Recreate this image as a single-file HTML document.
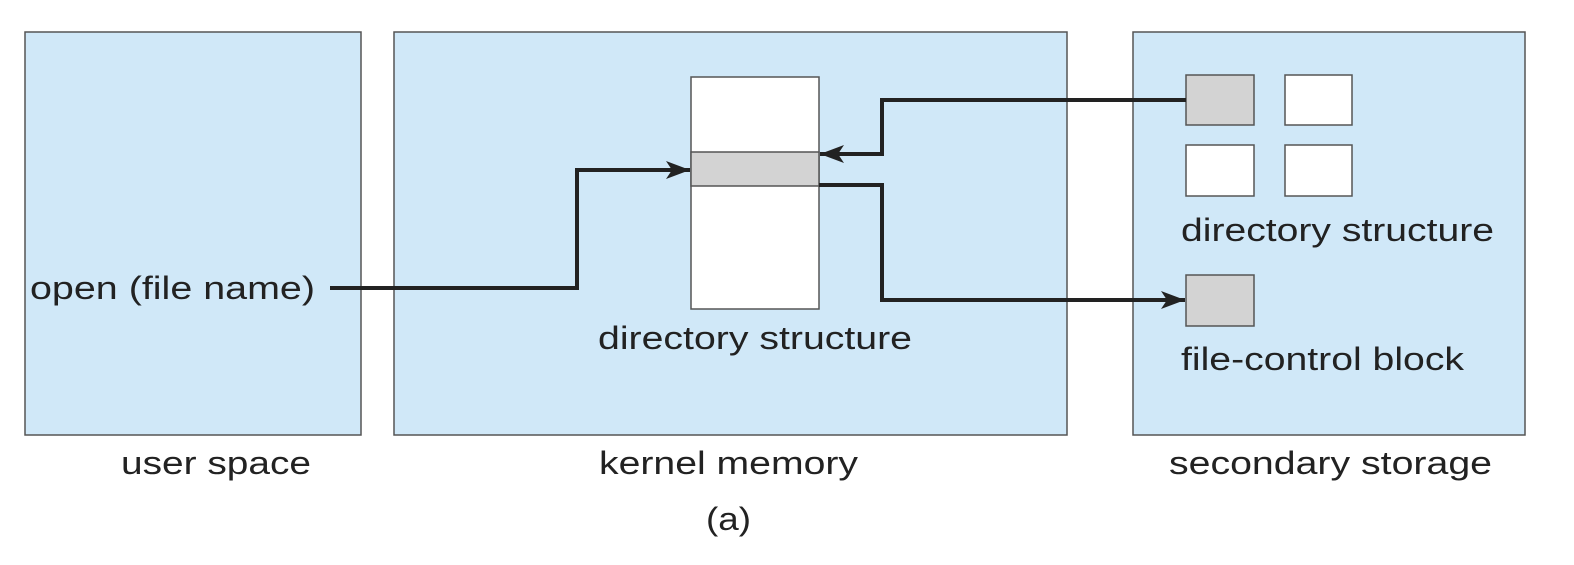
<!DOCTYPE html>
<html><head><style>body{margin:0;background:#fff}</style></head><body>
<svg width="1574" height="560" xmlns="http://www.w3.org/2000/svg" font-family="Liberation Sans, sans-serif" fill="#222">
<defs>
<marker id="b" viewBox="0 0 24 18" markerWidth="24" markerHeight="18" refX="24" refY="9" orient="auto" markerUnits="userSpaceOnUse"><path d="M0,0 L24,9 L0,18 L6,9 z" fill="#222"/></marker></defs>
<g fill="#d0e8f8" stroke="#555" stroke-width="1.5">
<rect x="25" y="32" width="336" height="403"/>
<rect x="394" y="32" width="673" height="403"/>
<rect x="1133" y="32" width="392" height="403"/>
</g>
<rect x="691" y="77" width="128" height="232" fill="#fff" stroke="#555" stroke-width="1.5"/>
<rect x="691" y="152" width="128" height="34" fill="#d3d3d3" stroke="#555" stroke-width="1.5"/>
<g stroke="#555" stroke-width="1.5">
<rect x="1186" y="75" width="68" height="50" fill="#d3d3d3"/>
<rect x="1285" y="75" width="67" height="50" fill="#fff"/>
<rect x="1186" y="145" width="68" height="51" fill="#fff"/>
<rect x="1285" y="145" width="67" height="51" fill="#fff"/>
<rect x="1186" y="275" width="68" height="51" fill="#d3d3d3"/>
</g>
<g fill="none" stroke="#222" stroke-width="4">
<path d="M330,288 H577 V170 H690" marker-end="url(#b)"/>
<path d="M1186,100 H882 V154 H820" marker-end="url(#b)"/>
<path d="M819,185 H882 V300 H1185" marker-end="url(#b)"/>
</g>
<g font-size="32" lengthAdjust="spacingAndGlyphs">
<text x="30" y="299" textLength="285" lengthAdjust="spacingAndGlyphs">open (file name)</text>
<text x="598" y="349" textLength="314" lengthAdjust="spacingAndGlyphs">directory structure</text>
<text x="1181" y="241" textLength="313" lengthAdjust="spacingAndGlyphs">directory structure</text>
<text x="1181" y="370" textLength="283" lengthAdjust="spacingAndGlyphs">file-control block</text>
<text x="121" y="474" textLength="190" lengthAdjust="spacingAndGlyphs">user space</text>
<text x="599" y="474" textLength="259" lengthAdjust="spacingAndGlyphs">kernel memory</text>
<text x="1169" y="474" textLength="323" lengthAdjust="spacingAndGlyphs">secondary storage</text>
<text x="706" y="530" textLength="45" lengthAdjust="spacingAndGlyphs">(a)</text>
</g>
</svg>
</body></html>
